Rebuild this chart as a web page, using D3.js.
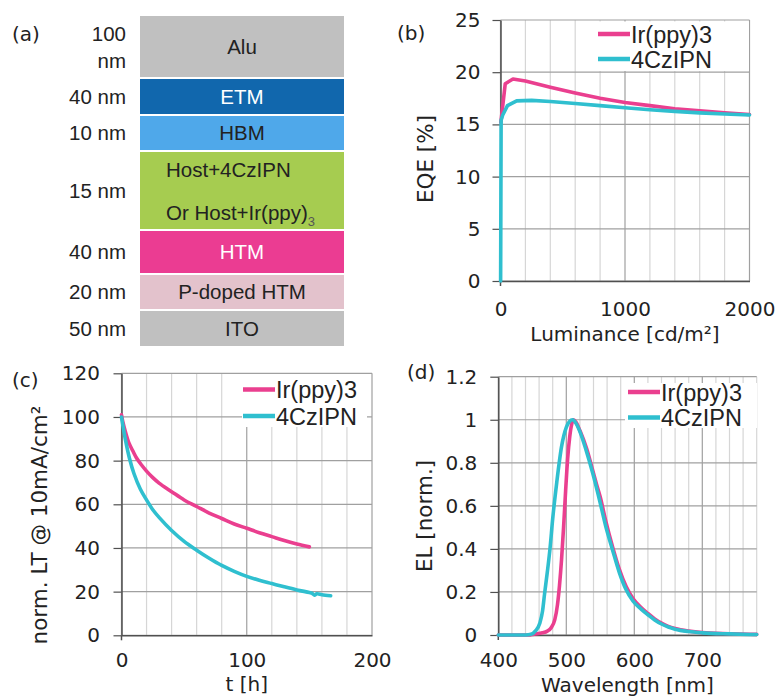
<!DOCTYPE html>
<html>
<head>
<meta charset="utf-8">
<script src="https://cdn.jsdelivr.net/npm/d3@7"></script>
<style>
  body { margin: 0; background: #fff; }
  text { fill: #222; }
</style>
</head>
<body>
<div id="chart"></div>
<script>
// ---- (a) device stack ----
const layerNames = ["Alu", "ETM", "HBM", "EML", "HTM", "P-doped HTM", "ITO"];
const layerThickness = ["100 nm", "40 nm", "10 nm", "15 nm", "40 nm", "20 nm", "50 nm"];
const emlLines = ["Host+4CzIPN", "Or Host+Ir(ppy)"];

// ---- (b) EQE vs luminance ----
const seriesNames = ["Ir(ppy)3", "4CzIPN"];
const lumIr = [3, 38, 100, 200, 400, 600, 800, 1000, 1200, 1400, 1600, 1800, 2000];
const eqeIr = [15.2, 18.9, 19.35, 19.15, 18.55, 18.0, 17.5, 17.1, 16.8, 16.5, 16.3, 16.1, 15.95];
const lumCz = [1, 5, 18, 56, 130, 250, 400, 600, 800, 1000, 1200, 1400, 1600, 1800, 2000];
const eqeCz = [0, 15.4, 15.9, 16.8, 17.25, 17.3, 17.2, 17.0, 16.8, 16.6, 16.4, 16.25, 16.1, 16.0, 15.9];

// ---- (c) lifetime ----
const tIr = [0, 1, 3, 6, 9, 12, 16, 20, 25, 30, 40, 50, 60, 70, 80, 90, 100, 110, 120, 130, 140, 150];
const ltIr = [101, 98, 93.5, 88, 84.5, 81.2, 78, 75.2, 72.2, 69.7, 65.8, 62, 59, 56, 53.5, 51, 49, 47, 45.2, 43.4, 41.8, 40.5];
const tCz = [0, 1, 3, 6.6, 10, 15, 20, 25, 30, 40, 50, 60, 70, 80, 90, 100, 110, 120, 130, 140, 150, 152, 154, 156, 160, 167];
const ltCz = [100, 96.5, 90, 80.5, 74, 67, 62, 57.5, 54, 48, 43, 39, 35.3, 32, 29.3, 27, 25.2, 23.7, 22.2, 20.8, 19.6, 19.3, 18.4, 19.0, 18.6, 18.1];

// ---- (d) EL spectra ----
const wlIr = [400, 445, 452, 465, 472, 478, 483, 487, 490, 493, 496, 499, 502, 505, 508, 511, 515, 520, 530, 538, 544, 550, 558, 568, 578, 588, 598, 610, 620, 630, 640, 650, 660, 680, 700, 740, 780];
const elIr = [0, 0, 0.004, 0.01, 0.018, 0.035, 0.07, 0.14, 0.23, 0.35, 0.5, 0.67, 0.82, 0.92, 0.98, 1.0, 0.985, 0.95, 0.865, 0.775, 0.705, 0.64, 0.53, 0.41, 0.305, 0.225, 0.17, 0.128, 0.1, 0.075, 0.055, 0.04, 0.03, 0.018, 0.011, 0.006, 0.003];
const wlCz = [400, 440, 448, 455, 461, 465, 468, 472, 476, 480, 486, 493, 500, 505, 509, 514, 520, 529, 539, 549, 558, 568, 578, 588, 598, 610, 620, 630, 640, 650, 660, 680, 700, 740, 780];
const elCz = [0, 0, 0.003, 0.02, 0.055, 0.11, 0.19, 0.29, 0.4, 0.54, 0.71, 0.875, 0.965, 0.993, 1.0, 0.985, 0.945, 0.86, 0.75, 0.625, 0.505, 0.395, 0.29, 0.21, 0.158, 0.12, 0.094, 0.07, 0.051, 0.037, 0.027, 0.016, 0.01, 0.005, 0.002];

const colors = ["#ea3f8f", "#2fbfcf"];
const layerColors = ["#c0c0c0", "#1167ad", "#4fa8ea", "#a6cc50", "#eb3c92", "#e3c2cc", "#c0c0c0"];
const layerText = ["#222", "#fff", "#222", "#222", "#fff", "#222", "#222"];

const svg = d3.select("#chart").append("svg")
  .attr("width", 776).attr("height", 696);

const axisFont = "DejaVu Sans, Verdana, sans-serif";
const labelFont = "Liberation Sans, Arial, sans-serif";

// ---------- panel (a) ----------
// row heights of the schematic (layout only, not proportional to nm)
const rowPx = [63, 37, 36, 79, 44, 36, 37];
const rowTop = d3.cumsum([0].concat(rowPx)).map(v => 16 + v);
const ga = svg.append("g");
ga.append("text").attr("x", 12).attr("y", 41)
  .style("font", `20px ${axisFont}`).text("(a)");

const rows = ga.selectAll("g.row").data(layerNames).join("g").attr("class", "row");
rows.append("rect")
  .attr("x", 140).attr("width", 204)
  .attr("y", (d, i) => rowTop[i]).attr("height", (d, i) => rowPx[i] - 2)
  .attr("fill", (d, i) => layerColors[i]);
rows.filter(d => d !== "EML").append("text")
  .attr("x", 242).attr("y", (d, i) => rowTop[layerNames.indexOf(d)] + (rowPx[layerNames.indexOf(d)] - 2) / 2)
  .attr("dy", "0.35em").attr("text-anchor", "middle")
  .style("font", `20.5px ${labelFont}`)
  .style("fill", d => layerText[layerNames.indexOf(d)])
  .text(d => d);

const emlIdx = layerNames.indexOf("EML");
ga.append("text").attr("x", 166).attr("y", rowTop[emlIdx] + 18).attr("dy", "0.35em")
  .style("font", `20.5px ${labelFont}`).text(emlLines[0]);
const t2 = ga.append("text").attr("x", 166).attr("y", rowTop[emlIdx] + 61).attr("dy", "0.35em")
  .style("font", `20.5px ${labelFont}`).text(emlLines[1]);
t2.append("tspan").attr("dy", 6).style("font-size", "13px").style("fill", "#555").text("3");

// thickness labels
layerThickness.forEach((s, i) => {
  const cy = rowTop[i] + (rowPx[i] - 2) / 2;
  if (s.startsWith("100")) {
    ga.append("text").attr("x", 126).attr("y", cy - 13).attr("dy", "0.35em")
      .attr("text-anchor", "end").style("font", `20.5px ${labelFont}`).text("100");
    ga.append("text").attr("x", 126).attr("y", cy + 14).attr("dy", "0.35em")
      .attr("text-anchor", "end").style("font", `20.5px ${labelFont}`).text("nm");
  } else {
    ga.append("text").attr("x", 126).attr("y", cy).attr("dy", "0.35em")
      .attr("text-anchor", "end").style("font", `20.5px ${labelFont}`).text(s);
  }
});

// ---------- generic xy panel ----------
function drawPanel(o) {
  const g = svg.append("g");
  const x = d3.scaleLinear().domain(o.xDomain).range([o.left, o.right]);
  const y = d3.scaleLinear().domain(o.yDomain).range([o.bottom, o.top]);

  // vertical grid (minor light, major darker)
  g.append("g").selectAll("line").data(o.xGrid).join("line")
    .attr("x1", d => x(d)).attr("x2", d => x(d))
    .attr("y1", o.top).attr("y2", o.bottom)
    .attr("stroke", d => o.xMajor.includes(d) ? "#a0a0a0" : "#d6d6d6")
    .attr("stroke-width", 1.2);
  // horizontal grid
  g.append("g").selectAll("line").data(o.yTicks).join("line")
    .attr("x1", o.left).attr("x2", o.right)
    .attr("y1", d => y(d)).attr("y2", d => y(d))
    .attr("stroke", "#a0a0a0").attr("stroke-width", 1.2);

  // legend background
  g.append("rect").attr("x", o.legend.x0).attr("y", o.legend.y0)
    .attr("width", o.legend.x1 - o.legend.x0).attr("height", o.legend.y1 - o.legend.y0)
    .attr("fill", "#fff");

  // axes
  const ya = g.append("g").attr("transform", `translate(${o.left},0)`)
    .call(d3.axisLeft(y).tickValues(o.yTicks).tickSize(8).tickSizeOuter(0)
      .tickPadding(o.yPad).tickFormat(o.yFormat || (d => d)));
  const xa = g.append("g").attr("transform", `translate(0,${o.bottom})`)
    .call(d3.axisBottom(x).tickValues(o.xTicks).tickSize(0).tickSizeOuter(0)
      .tickPadding(o.xPad).tickFormat(d => d));
  [ya, xa].forEach(a => {
    a.select(".domain").attr("stroke", "#505050").attr("stroke-width", 1.5);
    a.selectAll(".tick line").attr("stroke", "#505050").attr("stroke-width", 1.2);
    a.selectAll("text").style("font", `20px ${axisFont}`).style("fill", "#222");
  });
  g.append("line").attr("x1", o.left).attr("x2", o.left)
    .attr("y1", o.bottom).attr("y2", o.bottom + 5)
    .attr("stroke", "#505050").attr("stroke-width", 1.5);

  // series
  o.series.forEach((s, i) => {
    const line = d3.line().x((d, k) => x(s.x[k])).y(d => y(d)).curve(o.curve);
    g.append("path").datum(s.y).attr("d", line)
      .attr("fill", "none").attr("stroke", colors[i])
      .attr("stroke-width", 3.6).attr("stroke-linejoin", "round").attr("stroke-linecap", "round");
  });

  // legend
  seriesNames.forEach((n, i) => {
    const ly = o.legend.ly[i];
    g.append("line").attr("x1", o.legend.lx0).attr("x2", o.legend.lx1)
      .attr("y1", ly).attr("y2", ly).attr("stroke", colors[i]).attr("stroke-width", 4.5);
    g.append("text").attr("x", o.legend.lx1 + 1).attr("y", ly + 8.5)
      .style("font", `23.5px ${labelFont}`).text(n);
  });

  // titles
  g.append("text").attr("x", (o.left + o.right) / 2).attr("y", o.xTitleY)
    .attr("text-anchor", "middle").style("font", `20px ${axisFont}`).text(o.xTitle);
  const yt = g.append("text")
    .attr("transform", `translate(${o.yTitleX},${o.yTitleY}) rotate(-90)`)
    .attr("text-anchor", "middle").style("font", `21.5px ${axisFont}`);
  yt.text(o.yTitle);
  g.append("text").attr("x", o.tag[0]).attr("y", o.tag[1])
    .style("font", `20px ${axisFont}`).text(o.tagText);
}

// ---------- panel (b) ----------
drawPanel({
  left: 500.5, right: 749.5, top: 20, bottom: 281,
  xDomain: [0, 2000], yDomain: [0, 25],
  xGrid: d3.range(0, 2001, 200), xMajor: [0, 1000, 2000], xTicks: [0, 1000, 2000],
  yTicks: [0, 5, 10, 15, 20, 25], yPad: 12, xPad: 21,
  curve: d3.curveLinear,
  series: [{ x: lumIr, y: eqeIr }, { x: lumCz, y: eqeCz }],
  legend: { x0: 593, x1: 749, y0: 21.5, y1: 71, lx0: 598, lx1: 630, ly: [34, 59] },
  xTitle: "Luminance [cd/m\u00b2]", xTitleY: 341,
  yTitle: "EQE [%]", yTitleX: 433, yTitleY: 159,
  tag: [397, 40], tagText: "(b)"
});

// ---------- panel (c) ----------
drawPanel({
  left: 121.5, right: 372, top: 373.3, bottom: 635.3,
  xDomain: [0, 200], yDomain: [0, 120],
  xGrid: d3.range(0, 201, 20), xMajor: [0, 100, 200], xTicks: [0, 100, 200],
  yTicks: [0, 20, 40, 60, 80, 100, 120], yPad: 13.5, xPad: 18,
  curve: d3.curveCatmullRom,
  series: [{ x: tIr, y: ltIr }, { x: tCz, y: ltCz }],
  legend: { x0: 242, x1: 367, y0: 374, y1: 427, lx0: 243, lx1: 275, ly: [389.5, 416] },
  xTitle: "t [h]", xTitleY: 691,
  yTitle: "norm. LT @ 10mA/cm\u00b2", yTitleX: 47, yTitleY: 525,
  tag: [12, 387], tagText: "(c)"
});

// ---------- panel (d) ----------
drawPanel({
  left: 498.3, right: 756.7, top: 376.7, bottom: 635,
  xDomain: [400, 780], yDomain: [0, 1.2],
  xGrid: d3.range(400, 781, 20), xMajor: [400, 500, 600, 700], xTicks: [400, 500, 600, 700],
  yTicks: [0, 0.2, 0.4, 0.6, 0.8, 1, 1.2], yPad: 13, xPad: 18,
  curve: d3.curveMonotoneX,
  series: [{ x: wlIr, y: elIr }, { x: wlCz, y: elCz }],
  legend: { x0: 625, x1: 757, y0: 383, y1: 428, lx0: 628, lx1: 660, ly: [392, 417.5] },
  xTitle: "Wavelength [nm]", xTitleY: 691.5,
  yTitle: "EL [norm.]", yTitleX: 432, yTitleY: 516,
  tag: [407, 379], tagText: "(d)"
});
</script>
</body>
</html>
